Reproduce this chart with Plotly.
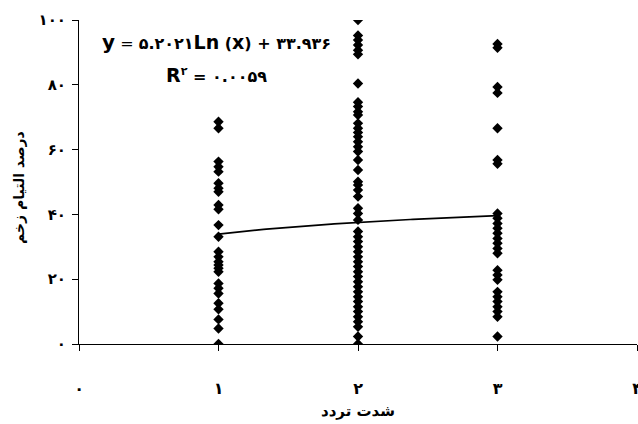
import numpy as np
import plotly.graph_objects as go

# Data
col1_x = 1
col1_y = [68.6, 66.6, 56.3, 54.7, 53.2, 49.6, 48.1, 47.0, 42.9, 41.6, 36.7, 33.1,
          28.5, 26.9, 25.4, 24.4, 23.4, 22.3, 18.7, 17.2, 15.6, 12.6, 10.7, 7.6, 4.8, 0]
col2_x = 2
col2_y = [100, 95.2, 93.8, 92.3, 90.7, 89.4, 80.4, 74.6, 73.3, 71.7, 70.7, 68.1, 66.6,
          65.3, 64.0, 62.4, 60.9, 59.4, 56.8, 53.7, 50.1, 49.1, 47.5, 45.5, 41.9, 40.3,
          38.3, 34.7, 33.1, 31.6, 30.0, 28.5, 26.9, 25.4, 23.9, 22.3, 20.8, 19.2, 17.7,
          16.1, 14.6, 13.1, 11.5, 10.0, 8.4, 6.9, 5.3, 2.3, 0]
col3_x = 3
col3_y = [92.6, 91.4, 79.3, 77.5, 66.6, 56.8, 55.6, 40.3, 38.8, 37.2, 35.7, 34.2,
          32.6, 31.1, 29.5, 28.0, 22.8, 21.3, 19.8, 16.1, 14.6, 13.1, 11.5, 10.0, 8.4, 2.3]

# Trendline coefficients shown on the chart
trend_a = 5.2021
trend_b = 33.936

x_tickvals = [0, 1, 2, 3, 4]
x_ticktext = ["۰", "۱", "۲", "۳", "۴"]
y_tickvals = [0, 20, 40, 60, 80, 100]
y_ticktext = ["۰", "۲۰", "۴۰", "۶۰", "۸۰", "۱۰۰"]

x_title = "شدت تردد"
y_title = "درصد التیام زخم"
eq_text = ("<b><span style='font-size:20px'>y</span></b> = "
           "<b>۵.۲۰۲۱<span style='font-size:19px'>Ln</span> "
           "(<span style='font-size:19px'>x</span>) + ۳۳.۹۳۶</b>")
r2_text = ("<b><span style='font-size:19px'>R</span><sup>۲</sup> = ۰.۰۰۵۹</b>")

xs = [col1_x] * len(col1_y) + [col2_x] * len(col2_y) + [col3_x] * len(col3_y)
ys = col1_y + col2_y + col3_y

tx = np.linspace(1, 3, 100)
ty = trend_a * np.log(tx) + trend_b

font_fam = "DejaVu Sans, Arial, sans-serif"

fig = go.Figure()
fig.add_trace(go.Scatter(x=xs, y=ys, mode="markers",
                         marker=dict(symbol="diamond", size=8, color="black"),
                         showlegend=False, hoverinfo="skip"))
fig.add_trace(go.Scatter(x=tx, y=ty, mode="lines",
                         line=dict(color="black", width=1.7),
                         showlegend=False, hoverinfo="skip"))

pw = 638 - 79 - 1
ph = 424 - 20 - 80


def px2paper(px, py):
    return (px - 79) / pw, 1 - (py - 20) / ph


ex, ey = px2paper(216, 42)
rx, ry = px2paper(216, 75)
tx_, ty_ = px2paper(19, 188)

fig.update_layout(
    width=638, height=424,
    margin=dict(l=79, r=1, t=20, b=80, autoexpand=False),
    paper_bgcolor="white", plot_bgcolor="white",
    font=dict(family=font_fam, color="black", size=12),
    xaxis=dict(range=[0, 4], tickvals=x_tickvals, ticktext=x_ticktext,
               showgrid=False, zeroline=False, showline=True, linecolor="black",
               linewidth=1, ticks="outside", ticklen=6, tickcolor="black",
               tickfont=dict(size=16, family=font_fam, weight="bold"),
               ticklabelstandoff=24, ticklabeloverflow="allow", automargin=False,
               title=dict(text=x_title, font=dict(size=15, family=font_fam, weight="bold"),
                          standoff=8)),
    yaxis=dict(range=[0, 100], tickvals=y_tickvals, ticktext=y_ticktext,
               showgrid=False, zeroline=False, showline=True, linecolor="black",
               linewidth=1, ticks="outside", ticklen=6, tickcolor="black",
               tickfont=dict(size=15, family=font_fam, weight="bold"),
               ticklabelstandoff=3, ticklabeloverflow="allow", automargin=False),
    annotations=[
        dict(text=eq_text, x=ex, y=ey, xref="paper", yref="paper", xanchor="center",
             yanchor="middle", showarrow=False, font=dict(size=16, family=font_fam)),
        dict(text=r2_text, x=rx, y=ry, xref="paper", yref="paper", xanchor="center",
             yanchor="middle", showarrow=False, font=dict(size=16, family=font_fam)),
        dict(text="<b>" + y_title + "</b>", x=tx_, y=ty_, xref="paper", yref="paper",
             xanchor="center", yanchor="middle", textangle=-90, showarrow=False,
             font=dict(size=14, family=font_fam)),
    ],
)

fig.write_html("out.html")
